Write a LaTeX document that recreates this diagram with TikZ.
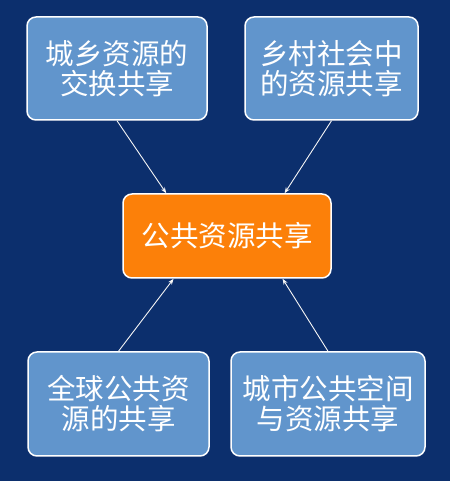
\documentclass[tikz,border=0pt]{standalone}
\usepackage{fontspec}
\newfontfamily\cjk{Noto Sans CJK SC}
\usetikzlibrary{arrows.meta}
\usetikzlibrary{calc}

\definecolor{bgnavy}{HTML}{0C2F6D}
\definecolor{boxblue}{HTML}{6195CC}
\definecolor{boxorange}{HTML}{FC8009}

\begin{document}
\begin{tikzpicture}[x=1pt,y=1pt,
    box/.style={draw=white,line width=1.5pt,rounded corners=9pt,fill=boxblue,
      text=white,align=center,inner sep=0pt,
      font=\cjk\fontsize{28.5}{30}\selectfont},
    link/.style={draw=white!92!gray,line width=0.9pt,-{Stealth[length=6pt,width=4.5pt]}}]

		\fill [bgnavy] (0,0) rectangle (450,481);

		\node [box,minimum width=180,minimum height=103] (A) at (117,412.5) {城乡资源的\\交换共享};
		\node [box,minimum width=173,minimum height=103] (B) at (331.5,412.5) {乡村社会中\\的资源共享};
		\node [box,minimum width=181,minimum height=104] (C) at (118.5,77) {全球公共资\\源的共享};
		\node [box,minimum width=194,minimum height=104] (D) at (328,77) {城市公共空间\\与资源共享};
		\node [box,fill=boxorange,minimum width=208,minimum height=84] (O) at (227,245) {公共资源共享};

		\coordinate (P) at ($ (O.north west)!0.21!(O.north east) $);
		\coordinate (Q) at ($ (O.north west)!0.775!(O.north east) $);
		\coordinate (R) at ($ (O.south west)!0.245!(O.south east) $);
		\coordinate (S) at ($ (O.south west)!0.765!(O.south east) $);

		\draw [link] (A.south) -- (P);
		\draw [link] (B.south) -- (Q);
		\draw [link] (C.north) -- (R);
		\draw [link] (D.north) -- (S);

\end{tikzpicture}
\end{document}
